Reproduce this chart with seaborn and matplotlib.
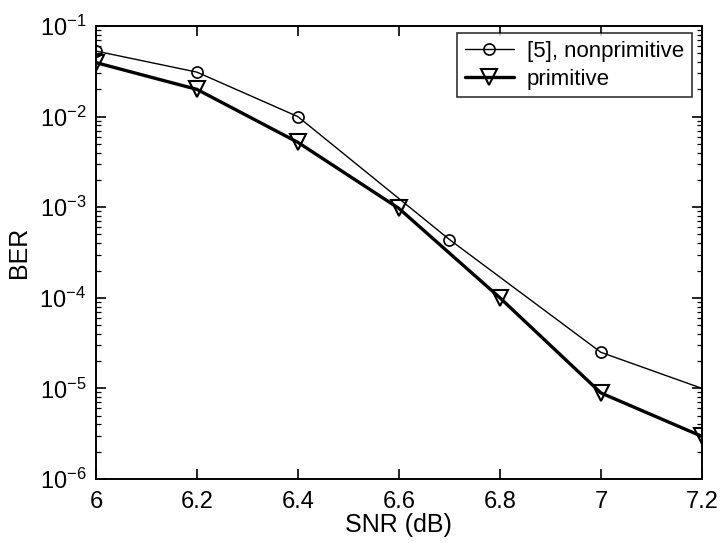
import numpy as np
import pandas as pd
import seaborn as sns
import matplotlib.pyplot as plt
from matplotlib.ticker import LogLocator, LogFormatterMathtext, NullFormatter

# values
snr_nonprim = [6.0, 6.2, 6.4, 6.7, 7.0, 7.2]
ber_nonprim = [5.3e-2, 3.1e-2, 1.0e-2, 4.4e-4, 2.5e-5, 1.0e-5]

snr_prim = [6.0, 6.2, 6.4, 6.6, 6.8, 7.0, 7.2]
ber_prim = [3.95e-2, 2.0e-2, 5.2e-3, 9.7e-4, 1.0e-4, 8.9e-6, 2.95e-6]

labels = ['[5], nonprimitive', 'primitive']
x_ticks = [6, 6.2, 6.4, 6.6, 6.8, 7, 7.2]
x_ticklabels = ['6', '6.2', '6.4', '6.6', '6.8', '7', '7.2']

df_a = pd.DataFrame({'snr': snr_nonprim, 'ber': ber_nonprim})
df_b = pd.DataFrame({'snr': snr_prim, 'ber': ber_prim})

sns.set_style('ticks')
plt.rcParams['font.family'] = ['Liberation Sans', 'DejaVu Sans']
plt.rcParams['mathtext.fontset'] = 'custom'
plt.rcParams['mathtext.rm'] = 'Liberation Sans'
plt.rcParams['mathtext.it'] = 'Liberation Sans:italic'
plt.rcParams['text.color'] = 'black'
plt.rcParams['axes.labelcolor'] = 'black'

fig = plt.figure(figsize=(7.21, 5.43), dpi=100)
ax = fig.add_axes([0.133, 0.118, 0.8405, 0.834])

# the last circle is not drawn in the original
sns.lineplot(data=df_a, x='snr', y='ber', ax=ax, color='black', linewidth=1.0,
             marker='o', markersize=8, markerfacecolor='none', markeredgecolor='black',
             markeredgewidth=1.2, markevery=list(range(len(snr_nonprim) - 1)),
             label=labels[0])
sns.lineplot(data=df_b, x='snr', y='ber', ax=ax, color='black', linewidth=2.4,
             marker='v', markersize=11, markerfacecolor='none', markeredgecolor='black',
             markeredgewidth=1.5, label=labels[1])

ax.set_yscale('log')
ax.set_xlim(6, 7.2)
ax.set_ylim(1e-6, 1e-1)
ax.set_xticks(x_ticks)
ax.set_xticklabels(x_ticklabels)
ax.yaxis.set_major_locator(LogLocator(base=10, numticks=10))
ax.yaxis.set_major_formatter(LogFormatterMathtext())
ax.yaxis.set_minor_locator(LogLocator(base=10, subs=np.arange(2, 10), numticks=20))
ax.yaxis.set_minor_formatter(NullFormatter())

ax.tick_params(which='both', direction='in', top=True, right=True, labelsize=17,
               colors='black', labelcolor='black')
ax.tick_params(which='major', length=7, width=1.2)
ax.tick_params(which='minor', length=3.5, width=0.9)
ax.tick_params(axis='x', pad=9)
ax.tick_params(axis='y', pad=7)
for s in ax.spines.values():
    s.set_linewidth(1.4)
    s.set_color('black')

ax.set_xlabel('SNR (dB)', fontsize=18, labelpad=0, color='black')
ax.set_ylabel('BER', fontsize=18, labelpad=6, color='black')

leg = ax.legend(loc='upper right', fontsize=16, frameon=True, fancybox=False,
                edgecolor='black', handlelength=2.2, handletextpad=0.6,
                borderpad=0.35, labelspacing=0.3, borderaxespad=0,
                bbox_to_anchor=(0.9835, 0.9845))
leg.get_frame().set_linewidth(1.2)
for t in leg.get_texts():
    t.set_color('black')

fig.savefig('out.png', dpi=100)
